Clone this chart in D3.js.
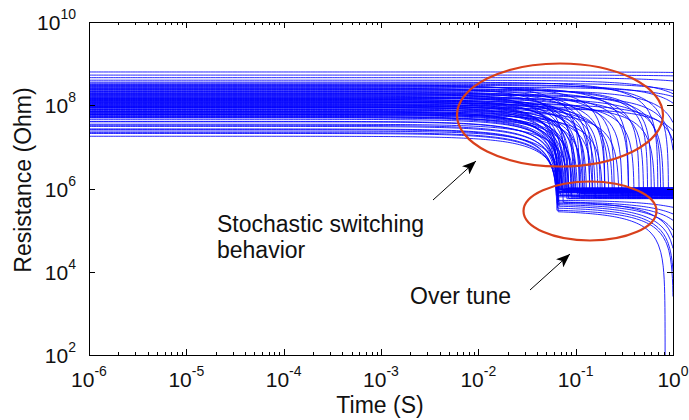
<!DOCTYPE html>
<html>
<head>
<meta charset="utf-8">
<script src="https://cdn.jsdelivr.net/npm/d3@7"></script>
<style>
  body { margin: 0; background: #fff; }
  text { font-family: Arial, "Liberation Sans", sans-serif; fill: #111; }
</style>
</head>
<body>
<div id="chart"></div>
<script>
// starting resistance of every device (Ohm)
let r0 = [
  6.3e8, 5.3e8, 4.6e8, 3.2e8, 3.0e8, 2.8e8, 2.7e8, 2.5e8, 2.4e8, 2.3e8,
  2.2e8, 2.1e8, 2.0e8, 1.9e8, 1.8e8, 1.75e8, 1.7e8, 1.6e8, 1.55e8, 1.5e8,
  1.45e8, 1.4e8, 1.35e8, 1.3e8, 1.25e8, 1.2e8, 1.15e8, 1.1e8, 1.05e8, 1.0e8,
  9.7e7, 9.3e7, 9.0e7, 8.6e7, 8.2e7, 7.9e7, 7.5e7, 7.2e7, 6.9e7, 6.6e7,
  6.3e7, 6.0e7, 5.7e7, 5.4e7, 5.1e7, 4.6e7, 4.1e7, 3.5e7, 3.1e7, 2.7e7,
  2.4e7, 2.1e7, 1.8e7, 3.1e8, 2.9e8, 2.6e8, 2.45e8, 2.15e8, 1.95e8, 1.85e8,
  1.65e8, 1.48e8, 1.38e8, 1.28e8, 1.18e8, 1.08e8, 1.02e8, 9.5e7, 8.8e7, 8.0e7,
  7.0e7, 6.5e7, 5.9e7, 5.3e7, 3.6e8, 3.4e8, 4.0e8
];
// time where each device switches (S)
let tSwitch = [
  40, 25, 6, 0.9, 1.6, 0.35, 2.5, 0.6, 0.15, 1.2,
  0.45, 0.095, 0.25, 0.75, 0.12, 1.05, 0.2, 0.085, 0.5, 0.14,
  0.3, 0.075, 0.18, 0.11, 0.4, 0.09, 0.22, 0.07, 0.13, 0.65,
  0.1, 0.16, 0.08, 1.4, 0.105, 0.072, 0.28, 0.092, 0.068, 0.12,
  0.082, 0.19, 0.078, 0.07, 0.098, 0.074, 0.066, 0.088, 0.069, 0.065,
  0.076, 0.067, 0.071, 0.11, 0.2, 0.078, 0.55, 0.14, 0.065, 0.35,
  0.1, 0.8, 0.125, 0.083, 0.17, 1.15, 0.073, 0.24, 0.115, 0.086,
  0.15, 0.07, 0.094, 0.066, 0.7, 3.0, 1.9
];
// resistance after switching (Ohm)
let rSet = [
  8.0e5, 8.0e5, 8.0e5, 9.2e5, 6.4e5, 8.6e5, 1.0e6, 6.0e5, 9.6e5, 8.2e5,
  7.2e5, 9.0e5, 8.8e5, 6.6e5, 1.02e6, 8.4e5, 9.4e5, 5.8e5, 8.0e5, 9.8e5,
  7.0e5, 8.7e5, 9.1e5, 7.6e5, 1.04e6, 6.2e5, 7.1e5, 9.5e5, 8.5e5, 7.8e5,
  9.9e5, 6.0e5, 8.9e5, 9.3e5, 7.4e5, 8.1e5, 1.01e6, 6.5e5, 9.7e5, 8.6e5,
  5.7e5, 9.0e5, 8.2e5, 7.3e5, 9.4e5, 8.8e5, 6.3e5, 1.03e6, 8.4e5, 6.8e5,
  9.2e5, 7.9e5, 9.6e5, 6.1e5, 8.7e5, 1.0e6, 7.5e5, 9.1e5, 8.3e5, 5.9e5,
  9.5e5, 8.5e5, 6.9e5, 9.9e5, 8.1e5, 6.4e5, 9.3e5, 8.9e5, 7.7e5, 1.02e6,
  8.6e5, 6.7e5, 9.7e5, 8.2e5, 7.0e5, 9.0e5, 8.8e5
];

// over tuned devices: they keep falling after the switch
let overR0 = [1.2e8, 9.0e7, 7.0e7, 5.0e7, 4.0e7, 3.3e7, 2.6e7, 2.2e7, 6.0e7];
let overSwitch = [0.066, 0.067, 0.065, 0.066, 0.068, 0.066, 0.065, 0.067, 0.075];
let overSet = [5.3e5, 4.9e5, 4.6e5, 4.3e5, 4.0e5, 3.6e5, 3.2e5, 3.0e5, 5.0e5];
let overTau = [3.0, 2.0, 1.6, 1.3, 1.1, 1.03, 1.008, 0.83, 1.15];

let xTicks = [1e-6, 1e-5, 1e-4, 1e-3, 1e-2, 1e-1, 1];
let xExp = ['-6', '-5', '-4', '-3', '-2', '-1', '0'];
let yTicks = [1e2, 1e4, 1e6, 1e8, 1e10];
let yExp = ['2', '4', '6', '8', '10'];

let width = 689, height = 420;
let margin = { top: 22, right: 16, bottom: 65, left: 89 };
let w = width - margin.left - margin.right;
let h = height - margin.top - margin.bottom;

let svg = d3.select('#chart').append('svg')
  .attr('width', width)
  .attr('height', height);

let g = svg.append('g')
  .attr('transform', 'translate(' + margin.left + ',' + margin.top + ')');

let xScale = d3.scaleLog().domain([1e-6, 1]).range([0, w]);
let yScale = d3.scaleLog().domain([1e2, 1e10]).range([h, 0]);

svg.append('defs').append('clipPath').attr('id', 'plotClip')
  .append('rect').attr('width', w).attr('height', h);

// resistance of one device at time t
function resistance(t, a, ts, f, tau) {
  let r = Math.max(a * (1 - t / ts), f * (1 - t / tau));
  return Math.max(r, 1);
}

function curve(a, ts, f, tau) {
  let times = d3.range(0, 241).map(i => Math.pow(10, -6 + i / 40));
  [ts, tau].forEach(tc => {
    if (!isFinite(tc)) return;
    for (let k = 1; k <= 40; k++) times.push(tc * (1 - Math.pow(10, -k / 6)));
    times.push(tc);
  });
  let cross = (a - f) / (a / ts - f / tau);
  if (cross > 0) times.push(cross);
  times = times.filter(t => t >= 1e-6 && t <= 1).sort((p, q) => p - q);
  return times.map(t => [t, resistance(t, a, ts, f, tau)]);
}

let devices = r0.map((a, i) => curve(a, tSwitch[i], rSet[i], Infinity));
overR0.forEach((a, i) => devices.push(curve(a, overSwitch[i], overSet[i], overTau[i])));

let line = d3.line()
  .x(d => xScale(d[0]))
  .y(d => yScale(d[1]));

g.append('g')
  .attr('clip-path', 'url(#plotClip)')
  .selectAll('path')
  .data(devices)
  .enter()
  .append('path')
  .attr('d', line)
  .attr('fill', 'none')
  .attr('stroke', '#0000ff')
  .attr('stroke-width', 1)
  .attr('stroke-opacity', 0.85);

// minor ticks on the time axis
let xMinor = [];
xTicks.slice(0, -1).forEach(v => { for (let k = 2; k < 10; k++) xMinor.push(k * v); });

function tickAxis(axis, size, values) {
  return axis.tickValues(values).tickSizeInner(size).tickSizeOuter(0).tickFormat('');
}

let axes = [
  [d3.axisBottom(xScale), xTicks, -6, 'translate(0,' + h + ')'],
  [d3.axisBottom(xScale), xMinor, -3, 'translate(0,' + h + ')'],
  [d3.axisTop(xScale), xTicks, -6, null],
  [d3.axisTop(xScale), xMinor, -3, null],
  [d3.axisLeft(yScale), yTicks, -6, null],
  [d3.axisRight(yScale), yTicks, -6, 'translate(' + w + ',0)']
];
axes.forEach(a => {
  let ax = g.append('g').call(tickAxis(a[0], a[2], a[1]));
  if (a[3]) ax.attr('transform', a[3]);
  ax.select('.domain').remove();
  ax.selectAll('line').attr('stroke', '#000').attr('shape-rendering', 'crispEdges');
});

// axes box
g.append('rect')
  .attr('x', 0.5).attr('y', 0.5)
  .attr('width', w).attr('height', h)
  .attr('fill', 'none')
  .attr('stroke', '#000')
  .attr('stroke-width', 1.2)
  .attr('shape-rendering', 'crispEdges');

// tick labels, 10 with a raised exponent
function powLabel(sel, exp) {
  sel.append('tspan').text('10');
  sel.append('tspan').attr('dy', -11).attr('font-size', '14px').text(exp);
}

xTicks.forEach((v, i) => {
  g.append('text')
    .attr('x', xScale(v))
    .attr('y', h + 32)
    .attr('text-anchor', 'middle')
    .attr('font-size', '21px')
    .call(powLabel, xExp[i]);
});

yTicks.forEach((v, i) => {
  g.append('text')
    .attr('x', -13)
    .attr('y', yScale(v) + 8)
    .attr('text-anchor', 'end')
    .attr('font-size', '21px')
    .call(powLabel, yExp[i]);
});

// axis titles
svg.append('text')
  .attr('x', 380)
  .attr('y', 413)
  .attr('text-anchor', 'middle')
  .attr('font-size', '23px')
  .text('Time (S)');

svg.append('text')
  .attr('transform', 'rotate(-90)')
  .attr('x', -180)
  .attr('y', 31)
  .attr('text-anchor', 'middle')
  .attr('font-size', '23px')
  .text('Resistance (Ohm)');

// annotations
let red = '#d8401c';
svg.append('ellipse')
  .attr('cx', 560).attr('cy', 115)
  .attr('rx', 103).attr('ry', 51.5)
  .attr('fill', 'none').attr('stroke', red).attr('stroke-width', 2.2);
svg.append('ellipse')
  .attr('cx', 590).attr('cy', 211)
  .attr('rx', 66.5).attr('ry', 29.5)
  .attr('fill', 'none').attr('stroke', red).attr('stroke-width', 2.2);

svg.select('defs').append('marker')
  .attr('id', 'head')
  .attr('viewBox', '0 0 14 11')
  .attr('refX', 14).attr('refY', 5.5)
  .attr('markerWidth', 14).attr('markerHeight', 11)
  .attr('markerUnits', 'userSpaceOnUse')
  .attr('orient', 'auto')
  .append('path')
  .attr('d', 'M0,0 L14,5.5 L0,11 L3.5,5.5 Z')
  .attr('fill', '#000');

[[433, 200, 476, 161], [530, 290, 570, 254]].forEach(a => {
  svg.append('line')
    .attr('x1', a[0]).attr('y1', a[1])
    .attr('x2', a[2]).attr('y2', a[3])
    .attr('stroke', '#000')
    .attr('stroke-width', 1)
    .attr('marker-end', 'url(#head)');
});

svg.append('text').attr('x', 217).attr('y', 232).attr('font-size', '23px')
  .text('Stochastic switching');
svg.append('text').attr('x', 217).attr('y', 258).attr('font-size', '23px')
  .text('behavior');
svg.append('text').attr('x', 410).attr('y', 304).attr('font-size', '23px')
  .text('Over tune');
</script>
</body>
</html>
